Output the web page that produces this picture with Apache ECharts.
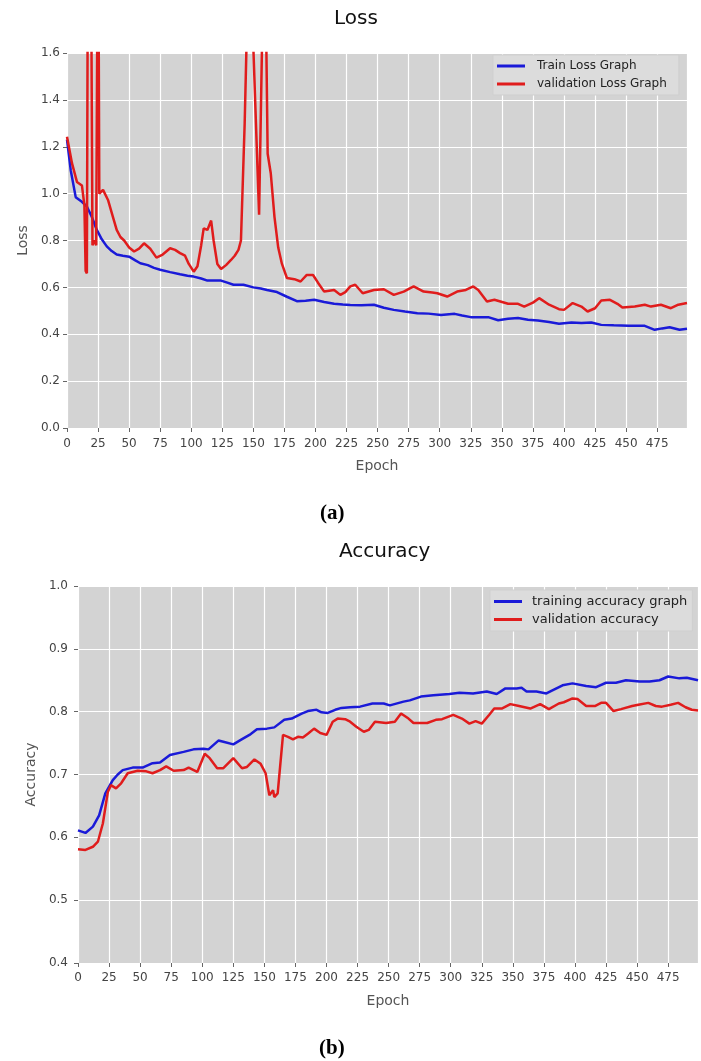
<!DOCTYPE html>
<html>
<head>
<meta charset="utf-8">
<style>
  html, body { margin: 0; padding: 0; background: #ffffff; }
  #chart { width: 701px; height: 1061px; }
</style>
<script src="https://cdn.jsdelivr.net/npm/echarts@6/dist/echarts.min.js"></script>
</head>
<body>
<div id="chart"></div>
<script>
// ---------------- DATA ----------------
var lossTitle = 'Loss';
var accTitle = 'Accuracy';
var xName = 'Epoch';
var lossYName = 'Loss';
var accYName = 'Accuracy';
var lossLegend = ['Train Loss Graph', 'validation Loss Graph'];
var accLegend = ['training accuracy graph', 'validation accuracy'];

var trainLossEpochs = [0,3,7,12,16,20,24,28,32,36,40,45,50,55,59,65,70,75,83,91,97,102,108,113,118,124,129,134,142,150,156,161,169,177,185,192,199,207,215,222,228,237,247,255,263,272,282,291,301,312,318,325,339,347,355,363,371,379,388,396,406,414,422,430,440,452,465,473,479,485,493,499];
var trainLoss = [1.23,1.10,0.985,0.965,0.945,0.90,0.845,0.805,0.775,0.755,0.74,0.735,0.731,0.715,0.703,0.695,0.683,0.675,0.665,0.656,0.65,0.646,0.638,0.629,0.629,0.629,0.62,0.611,0.611,0.60,0.595,0.589,0.58,0.56,0.541,0.543,0.547,0.538,0.53,0.527,0.525,0.524,0.526,0.513,0.504,0.497,0.49,0.488,0.482,0.487,0.48,0.473,0.473,0.46,0.466,0.469,0.462,0.459,0.452,0.445,0.45,0.448,0.45,0.44,0.438,0.436,0.436,0.419,0.425,0.43,0.419,0.423];

var valLossEpochs = [0,4,8,12,14,15,16,17,19,20.5,22,23.5,25,26,29,33,37,40,43,46,50,54,58,62,67,72,77,83,87,91,95,98,102,105,108,110,113,116,118,121,124,128,132,135,138,140,143,145,147,149,150,154.6,157.5,159,160.5,161.5,164,167,170,173,177,183,188,193,198,202,207,215,220,224,228,232,238,247,255,263,271,279,287,294,298,306,314,321,327,331,338,344,355,363,368,375,380,388,396,400,407,414,419,425,430,437,443,447,457,465,470,478,486,492,499];
var valLoss = [1.243,1.13,1.05,1.035,0.95,0.67,0.66,2.4,2.4,0.78,0.80,0.78,2.4,1.0,1.016,0.973,0.90,0.845,0.815,0.80,0.77,0.753,0.765,0.788,0.765,0.727,0.74,0.767,0.76,0.746,0.735,0.70,0.667,0.69,0.78,0.852,0.845,0.885,0.80,0.70,0.678,0.695,0.717,0.735,0.76,0.80,1.3,1.75,2.4,1.9,1.62,0.91,1.8,2.4,1.6,1.17,1.087,0.90,0.77,0.70,0.64,0.635,0.625,0.653,0.653,0.62,0.582,0.589,0.568,0.58,0.604,0.611,0.575,0.589,0.592,0.568,0.582,0.604,0.582,0.578,0.575,0.561,0.582,0.589,0.604,0.589,0.54,0.547,0.53,0.53,0.518,0.535,0.554,0.526,0.507,0.504,0.533,0.518,0.497,0.511,0.544,0.547,0.53,0.514,0.518,0.526,0.518,0.526,0.511,0.526,0.533];

var trainAccEpochs = [0,6,12,17,22,28,32,36,44,52,60,66,74,85,93,101,105,113,117,125,131,138,144,152,158,166,172,180,185,192,196,201,207,212,219,227,237,246,251,262,267,276,286,299,307,318,329,337,344,353,357,361,369,377,381,390,398,409,417,425,433,441,452,460,468,475,484,490,499];
var trainAcc = [0.611,0.607,0.617,0.635,0.67,0.691,0.70,0.707,0.711,0.711,0.718,0.719,0.731,0.736,0.74,0.741,0.74,0.754,0.752,0.748,0.755,0.763,0.772,0.773,0.775,0.787,0.789,0.797,0.801,0.803,0.799,0.798,0.803,0.806,0.807,0.808,0.813,0.813,0.81,0.816,0.818,0.824,0.826,0.828,0.83,0.829,0.832,0.828,0.837,0.837,0.838,0.832,0.832,0.829,0.833,0.842,0.845,0.841,0.839,0.846,0.846,0.85,0.848,0.848,0.85,0.856,0.853,0.854,0.85];

var valAccEpochs = [0,6,12,16,20,24,26.5,30.6,34.7,40,48,55,60,66,71,77,85,89,96,102,106,112,117,125,132,136,142,147,151,154,157,158,160.7,165,169,173,177,181,185,190,195,200,205,209,215,219,224,230,234,239,248,255,260,266,270,281,288,293,302,309,315,320,325,331,335,341,348,355,364,372,379,387,391,398,402,409,416,421,425,431,437,446,451,459,465,470,477,483,489,494,499];
var valAcc = [0.581,0.58,0.585,0.593,0.622,0.672,0.683,0.678,0.686,0.702,0.706,0.705,0.702,0.707,0.713,0.706,0.707,0.711,0.704,0.733,0.726,0.71,0.71,0.726,0.71,0.712,0.724,0.717,0.702,0.667,0.675,0.664,0.67,0.763,0.76,0.756,0.76,0.759,0.765,0.773,0.766,0.763,0.784,0.789,0.788,0.784,0.776,0.768,0.771,0.784,0.782,0.784,0.797,0.789,0.782,0.782,0.787,0.788,0.795,0.789,0.781,0.785,0.781,0.795,0.805,0.805,0.812,0.809,0.805,0.812,0.804,0.813,0.815,0.821,0.82,0.809,0.809,0.814,0.814,0.801,0.804,0.809,0.811,0.814,0.809,0.808,0.811,0.814,0.807,0.803,0.802];

var lossYTicks = { min: 0, max: 1.6, interval: 0.2 };
var accYTicks = { min: 0.4, max: 1.0, interval: 0.1 };
var xTicks = { min: 0, max: 499, interval: 25 };

// ---------------- STYLE / BUILD ----------------
function pairs(xs, ys) { return xs.map(function (x, i) { return [x, ys[i]]; }); }

var FONT = "'DejaVu Sans', sans-serif";
var BLUE = '#1a1ad8';
var RED = '#e01c1c';
var PLOT_BG = '#d3d3d3';

function xAxisCfg(gridIndex, margin) {
  return {
    type: 'value', gridIndex: gridIndex,
    min: xTicks.min, max: xTicks.max, interval: xTicks.interval,
    name: xName, nameLocation: 'middle', nameGap: 31,
    nameTextStyle: { fontFamily: FONT, fontSize: 14, color: '#555' },
    axisLine: { show: false },
    axisTick: { show: true, length: 4, lineStyle: { color: '#666', width: 1 } },
    axisLabel: { fontFamily: FONT, fontSize: 12, color: '#444', margin: margin, showMaxLabel: false },
    splitLine: { show: true, lineStyle: { color: '#ffffff', width: 1.2 } }
  };
}
function yAxisCfg(gridIndex, t, name, gap, margin) {
  return {
    type: 'value', gridIndex: gridIndex,
    min: t.min, max: t.max, interval: t.interval,
    name: name, nameLocation: 'middle', nameGap: gap,
    nameTextStyle: { fontFamily: FONT, fontSize: 14, color: '#555' },
    axisLine: { show: false },
    axisTick: { show: true, length: 4, lineStyle: { color: '#666', width: 1 } },
    axisLabel: { fontFamily: FONT, fontSize: 12, color: '#444', margin: margin,
      formatter: function (v) { return v.toFixed(1); } },
    splitLine: { show: true, lineStyle: { color: '#ffffff', width: 1.2 } }
  };
}
function lineSeries(name, xi, yi, data, color) {
  return {
    type: 'line', name: name, xAxisIndex: xi, yAxisIndex: yi,
    data: data, showSymbol: false, symbol: 'none', smooth: false, clip: true,
    lineStyle: { color: color, width: 2.5 }, itemStyle: { color: color },
    animation: false
  };
}

var chart = echarts.init(document.getElementById('chart'), null, { renderer: 'canvas' });
chart.setOption({
  backgroundColor: '#ffffff',
  animation: false,
  title: [
    { text: lossTitle, left: 329, top: 4, textStyle: { fontFamily: FONT, fontSize: 20, fontWeight: 'normal', color: '#111' } },
    { text: accTitle, left: 334, top: 537, textStyle: { fontFamily: FONT, fontSize: 20, fontWeight: 'normal', color: '#111' } }
  ],
  grid: [
    { left: 67, top: 53, width: 620, height: 375, show: true, backgroundColor: PLOT_BG, borderWidth: 0, containLabel: false },
    { left: 78, top: 586, width: 620, height: 377, show: true, backgroundColor: PLOT_BG, borderWidth: 0, containLabel: false }
  ],
  xAxis: [ xAxisCfg(0, 10), xAxisCfg(1, 9) ],
  yAxis: [
    yAxisCfg(0, lossYTicks, lossYName, 37, 7),
    yAxisCfg(1, accYTicks, accYName, 37, 10)
  ],
  legend: [
    { data: lossLegend, orient: 'vertical', left: 493, top: 55,
      padding: [5, 12, 5, 4], itemGap: 6, itemWidth: 28, itemHeight: 3, icon: 'rect',
      backgroundColor: '#dcdcdc', borderColor: '#cfcfcf', borderWidth: 1,
      textStyle: { fontFamily: FONT, fontSize: 12, color: '#222', padding: [0, 0, 0, 7] } },
    { data: accLegend, orient: 'vertical', left: 490, top: 590,
      padding: [5, 5, 5, 4], itemGap: 5, itemWidth: 28, itemHeight: 3, icon: 'rect',
      backgroundColor: '#dcdcdc', borderColor: '#cfcfcf', borderWidth: 1,
      textStyle: { fontFamily: FONT, fontSize: 13, color: '#222', padding: [0, 0, 0, 5] } }
  ],
  series: [
    lineSeries(lossLegend[0], 0, 0, pairs(trainLossEpochs, trainLoss), BLUE),
    lineSeries(lossLegend[1], 0, 0, pairs(valLossEpochs, valLoss), RED),
    lineSeries(accLegend[0], 1, 1, pairs(trainAccEpochs, trainAcc), BLUE),
    lineSeries(accLegend[1], 1, 1, pairs(valAccEpochs, valAcc), RED)
  ],
  graphic: [
    { type: 'text', left: 320, top: 503, style: { text: '(a)', font: "bold 21px 'Liberation Serif', serif", fill: '#000' } },
    { type: 'text', left: 319, top: 1038, style: { text: '(b)', font: "bold 21px 'Liberation Serif', serif", fill: '#000' } }
  ]
});
</script>
</body>
</html>
